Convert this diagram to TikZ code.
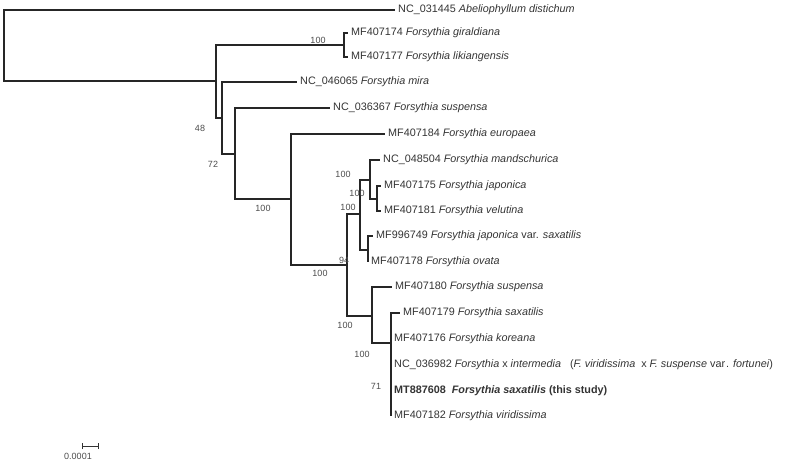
\documentclass[tikz,border=0pt]{standalone}
\usepackage{fontspec}
\setmainfont{Liberation Sans}
\begin{document}
\begin{tikzpicture}[x=1pt,y=-1pt,
  br/.style={line width=1.2pt,black!85},
  lf/.style={anchor=west,inner sep=0pt,xshift=3pt,font=\fontsize{10.8}{12}\selectfont,text=black!80},
  bs/.style={inner sep=0pt,font=\fontsize{9}{10}\selectfont,text=black!70}]
\useasboundingbox (0,0) rectangle (800,463);
% internal nodes
\coordinate (R) at (4,45);
\coordinate (A) at (216,81);
\coordinate (P) at (344,45);
\coordinate (B) at (222,118);
\coordinate (C) at (235,154);
\coordinate (D) at (291,199);
\coordinate (E) at (347,265);
\coordinate (F) at (360,214);
\coordinate (G) at (370,180);
\coordinate (H) at (377,199);
\coordinate (I) at (368,250);
\coordinate (J) at (372,316);
\coordinate (K) at (391,343);
% leaves
\coordinate (l1) at (395,10);
\coordinate (l2) at (348,33);
\coordinate (l3) at (348,57);
\coordinate (l4) at (297,82);
\coordinate (l5) at (330,108);
\coordinate (l6) at (385,134);
\coordinate (l7) at (380,160);
\coordinate (l8) at (381,186);
\coordinate (l9) at (381,211);
\coordinate (l10) at (373,236);
\coordinate (l11) at (368,262);
\coordinate (l12) at (392,287);
\coordinate (l13) at (400,313);
\coordinate (l14) at (391,339);
\coordinate (l15) at (391,365);
\coordinate (l16) at (391,391);
\coordinate (l17) at (391,416);
% branches
\draw[br] (R) |- (l1);
\draw[br] (R) |- (A);
\draw[br] (A) |- (P);
\draw[br] (P) |- (l2); \draw[br] (P) |- (l3);
\draw[br] (A) |- (B);
\draw[br] (B) |- (l4);
\draw[br] (B) |- (C);
\draw[br] (C) |- (l5);
\draw[br] (C) |- (D);
\draw[br] (D) |- (l6);
\draw[br] (D) |- (E);
\draw[br] (E) |- (F);
\draw[br] (F) |- (G);
\draw[br] (G) |- (l7);
\draw[br] (G) |- (H);
\draw[br] (H) |- (l8); \draw[br] (H) |- (l9);
\draw[br] (F) |- (I);
\draw[br] (I) |- (l10); \draw[br] (I) |- (l11);
\draw[br] (E) |- (J);
\draw[br] (J) |- (l12);
\draw[br] (J) |- (K);
\draw[br] (K) |- (l13);
\draw[br] (K) |- (l14); \draw[br] (K) |- (l15); \draw[br] (K) |- (l16); \draw[br] (K) |- (l17);
% leaf labels
\node[lf] (t1) at (l1) {NC\_031445 \textit{Abeliophyllum distichum}};
\node[lf] (t2) at (l2) {MF407174 \textit{Forsythia giraldiana}};
\node[lf] (t3) at (l3) {MF407177 \textit{Forsythia likiangensis}};
\node[lf] (t4) at (l4) {NC\_046065 \textit{Forsythia mira}};
\node[lf] (t5) at (l5) {NC\_036367 \textit{Forsythia suspensa}};
\node[lf] (t6) at (l6) {MF407184 \textit{Forsythia europaea}};
\node[lf] (t7) at (l7) {NC\_048504 \textit{Forsythia mandschurica}};
\node[lf] (t8) at (l8) {MF407175 \textit{Forsythia japonica}};
\node[lf] (t9) at (l9) {MF407181 \textit{Forsythia velutina}};
\node[lf] (t10) at (l10) {MF996749 \textit{Forsythia japonica} var. \textit{saxatilis}};
\node[lf] (t11) at (l11) {MF407178 \textit{Forsythia ovata}};
\node[lf] (t12) at (l12) {MF407180 \textit{Forsythia suspensa}};
\node[lf] (t13) at (l13) {MF407179 \textit{Forsythia saxatilis}};
\node[lf] (t14) at (l14) {MF407176 \textit{Forsythia koreana}};
\node[lf] (t15) at (l15) {NC\_036982 \textit{Forsythia} x \textit{intermedia}\hspace{9pt}(\textit{F.\ viridissima}\ \ x \textit{F.\ suspense} var\hspace{1pt}. \textit{fortunei})};
\node[lf] (t16) at (l16) {\bfseries MT887608\ \ \textit{Forsythia saxatilis} (this study)};
\node[lf] (t17) at (l17) {MF407182 \textit{Forsythia viridissima}};
% bootstrap values
\node[bs] (b1) at (318,40) {100};
\node[bs] (b2) at (200,128) {48};
\node[bs] (b3) at (213,164) {72};
\node[bs] (b4) at (263,208) {100};
\node[bs] (b5) at (320,273) {100};
\node[bs] (b6) at (344,260) {94};
\node[bs] (b7) at (348,207) {100};
\node[bs] (b8) at (343,174) {100};
\node[bs] (b9) at (357,193) {100};
\node[bs] (b10) at (345,325) {100};
\node[bs] (b11) at (362,354) {100};
\node[bs] (b12) at (376,386) {71};
% scale bar
\coordinate (s1) at (82,446); \coordinate (s2) at (98,446);
\draw[line width=0.8pt,black!80] (s1) -- (s2);
\draw[line width=0.8pt,black!80] ([yshift=-3pt]s1) -- ([yshift=3pt]s1);
\draw[line width=0.8pt,black!80] ([yshift=-3pt]s2) -- ([yshift=3pt]s2);
\node[bs] (sl) at (78,456) {0.0001};
\end{tikzpicture}
\end{document}
